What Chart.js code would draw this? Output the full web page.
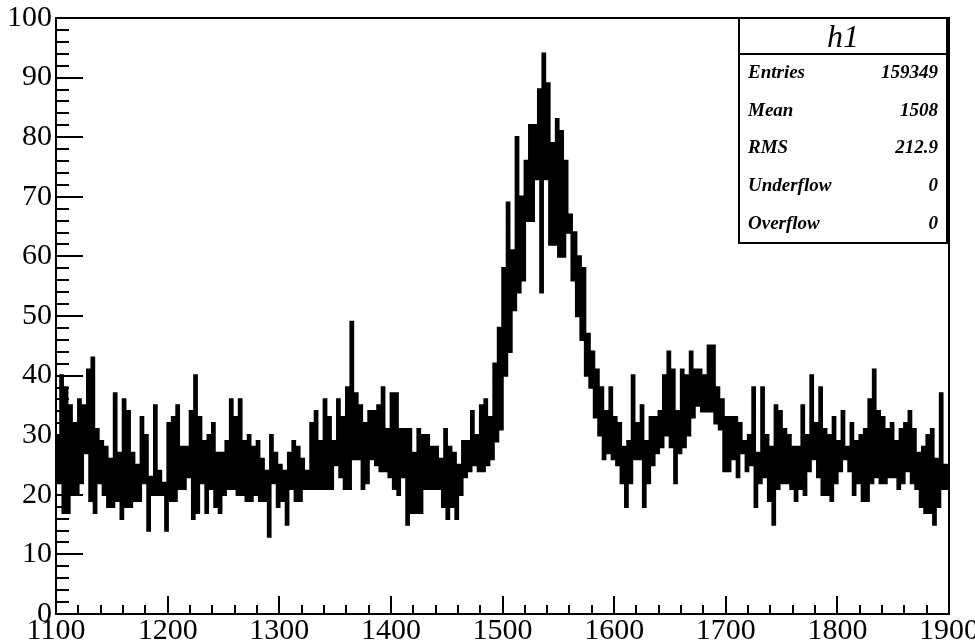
<!DOCTYPE html>
<html>
<head>
<meta charset="utf-8">
<script src="https://cdn.jsdelivr.net/npm/chart.js@4.4.1/dist/chart.umd.min.js"></script>
<style>
    html, body { margin: 0; padding: 0; background: #fff; }
    canvas { display: block; }
</style>
</head>
<body>
<canvas id="canvas_h1" width="975" height="644"></canvas>
<script>
const xMin = 1100;
const xMax = 1900;
const binWidth = 2;
const yMin = 0;
const yMax = 100;
const xTickStep = 100;
const xMinorStep = 20;
const yTickStep = 10;
const yMinorStep = 2;

// counts per bin (2 units wide)
const counts = [
    30,22, 40,17, 38,17, 35,20, 32,20, 36,22, 35,27, 41,19, 43,17, 31,22,
    29,20, 28,18, 26,18, 37,19, 27,16, 36,18, 34,18, 27,19, 25,19, 33,22,
    30,14, 23,20, 35,20, 24,20, 22,14, 32,19, 33,19, 35,21, 28,21, 28,23,
    34,16, 40,17, 33,22, 29,17, 30,21, 32,18, 27,17, 27,20, 29,21, 36,21,
    33,20, 36,20, 29,19, 30,19, 28,20, 29,19, 26,19, 24,13, 30,22, 27,18,
    25,19, 24,15, 27,21, 29,19, 28,19, 26,21, 24,21, 32,21, 34,21, 29,21,
    36,21, 33,21, 29,25, 36,23, 33,21, 38,21, 49,26, 37,26, 35,21, 32,22,
    34,26, 34,25, 35,24, 38,24, 31,23, 37,21, 37,20, 31,23, 31,15, 31,17,
    27,17, 31,17, 30,21, 30,21, 28,21, 28,21, 26,18, 31,16, 28,18, 27,16,
    25,20, 29,23, 29,24, 34,25, 30,24, 35,24, 36,25, 33,26, 42,29, 48,31,
    58,40, 69,44, 61,51, 80,54, 70,56, 76,66, 82,66, 82,73, 88,54, 94,73,
    89,62, 79,62, 83,60, 81,60, 76,64, 67,56, 64,50, 60,46, 58,40, 47,38,
    44,33, 41,30, 38,26, 34,27, 38,26, 33,25, 32,22, 28,18, 29,22, 40,26,
    32,26, 35,18, 29,22, 33,25, 33,27, 34,28, 40,30, 44,28, 41,22, 34,27,
    41,28, 40,30, 44,33, 41,35, 41,34, 40,34, 45,34, 45,32, 38,31, 36,24,
    33,24, 33,26, 33,23, 32,27, 29,24, 30,25, 38,18, 27,22, 38,23, 30,19,
    28,15, 35,21, 34,22, 31,22, 30,21, 28,19, 28,21, 35,20, 30,24, 40,26,
    32,23, 38,20, 31,20, 30,19, 33,22, 29,24, 34,26, 28,24, 32,20, 29,22,
    30,19, 31,19, 36,22, 41,23, 34,22, 33,22, 31,23, 32,23, 29,21, 31,22,
    32,24, 34,22, 31,21, 27,18, 28,17, 30,17, 31,15, 26,18, 37,21, 25,21
];

const statsTitle = 'h1';
const statsLabels = ['Entries', 'Mean', 'RMS', 'Underflow', 'Overflow'];
const statsValues = ['159349', '1508', '212.9', '0', '0'];

const serif = '"Liberation Serif", "Times New Roman", serif';

// left edge of each bin, plus the closing edge at xMax
const points = counts.map((c, i) => ({ x: xMin + i * binWidth, y: c }));
points.push({ x: xMax, y: counts[counts.length - 1] });

// ROOT style frame with inward ticks
const frameAndTicks = {
    id: 'frameAndTicks',
    afterDraw(chart) {
        const { ctx, chartArea: a, scales: { x, y } } = chart;
        ctx.save();
        ctx.strokeStyle = '#000';
        ctx.lineWidth = 2;
        ctx.beginPath();
        for (let v = xMin; v <= xMax; v += xMinorStep) {
            const px = Math.round(x.getPixelForValue(v));
            const len = (v - xMin) % xTickStep === 0 ? 18 : 9;
            ctx.moveTo(px, a.bottom);
            ctx.lineTo(px, a.bottom - len);
        }
        for (let v = yMin; v <= yMax; v += yMinorStep) {
            const py = Math.round(y.getPixelForValue(v));
            const len = v % yTickStep === 0 ? 27 : 13;
            ctx.moveTo(a.left, py);
            ctx.lineTo(a.left + len, py);
        }
        ctx.stroke();
        ctx.strokeRect(a.left, a.top, a.right - a.left, a.bottom - a.top);
        ctx.restore();
    }
};

const statsBox = {
    id: 'statsBox',
    afterDraw(chart) {
        const { ctx, chartArea: a } = chart;
        const left = 739, right = a.right - 2, top = a.top, bottom = 243, header = 54;
        ctx.save();
        ctx.fillStyle = '#fff';
        ctx.fillRect(left, top, right - left, bottom - top);
        ctx.strokeStyle = '#000';
        ctx.lineWidth = 2;
        ctx.strokeRect(left, top, right - left, bottom - top);
        ctx.beginPath();
        ctx.moveTo(left, header);
        ctx.lineTo(right, header);
        ctx.stroke();

        ctx.fillStyle = '#000';
        ctx.font = 'italic 32px ' + serif;
        ctx.textAlign = 'center';
        ctx.textBaseline = 'alphabetic';
        ctx.fillText(statsTitle, (left + right) / 2, 47);

        ctx.font = 'italic bold 19px ' + serif;
        ctx.textBaseline = 'middle';
        const rowH = (bottom - header) / statsLabels.length;
        statsLabels.forEach((label, i) => {
            const cy = header + rowH * (i + 0.5);
            ctx.textAlign = 'left';
            ctx.fillText(label, left + 9, cy);
            ctx.textAlign = 'right';
            ctx.fillText(statsValues[i], right - 9, cy);
        });
        ctx.restore();
    }
};

const ctx = document.getElementById('canvas_h1').getContext('2d');
new Chart(ctx, {
    type: 'line',
    data: {
        datasets: [{
            data: points,
            stepped: 'before',
            borderColor: '#000',
            borderWidth: 2.5,
            borderJoinStyle: 'miter',
            pointRadius: 0,
            fill: false
        }]
    },
    options: {
        responsive: false,
        animation: false,
        layout: { padding: { top: 18, right: 26, left: 0, bottom: 0 } },
        plugins: {
            legend: { display: false },
            tooltip: { enabled: false }
        },
        scales: {
            x: {
                type: 'linear',
                min: xMin,
                max: xMax,
                grid: { display: false, drawTicks: false },
                border: { display: false },
                ticks: {
                    stepSize: xTickStep,
                    autoSkip: false,
                    maxRotation: 0,
                    color: '#000',
                    padding: 2,
                    font: { family: serif, size: 30, lineHeight: 1 },
                    callback: v => String(v)
                },
                afterFit(s) { s.height = 30; s.paddingLeft = 0; s.paddingRight = 0; }
            },
            y: {
                min: yMin,
                max: yMax,
                grid: { display: false, drawTicks: false },
                border: { display: false },
                ticks: {
                    stepSize: yTickStep,
                    color: '#000',
                    padding: 4,
                    font: { family: serif, size: 30, lineHeight: 1 },
                    callback: v => String(v)
                },
                afterFit(s) { s.width = 56; s.paddingTop = 0; s.paddingBottom = 0; }
            }
        }
    },
    plugins: [frameAndTicks, statsBox]
});
</script>
</body>
</html>
